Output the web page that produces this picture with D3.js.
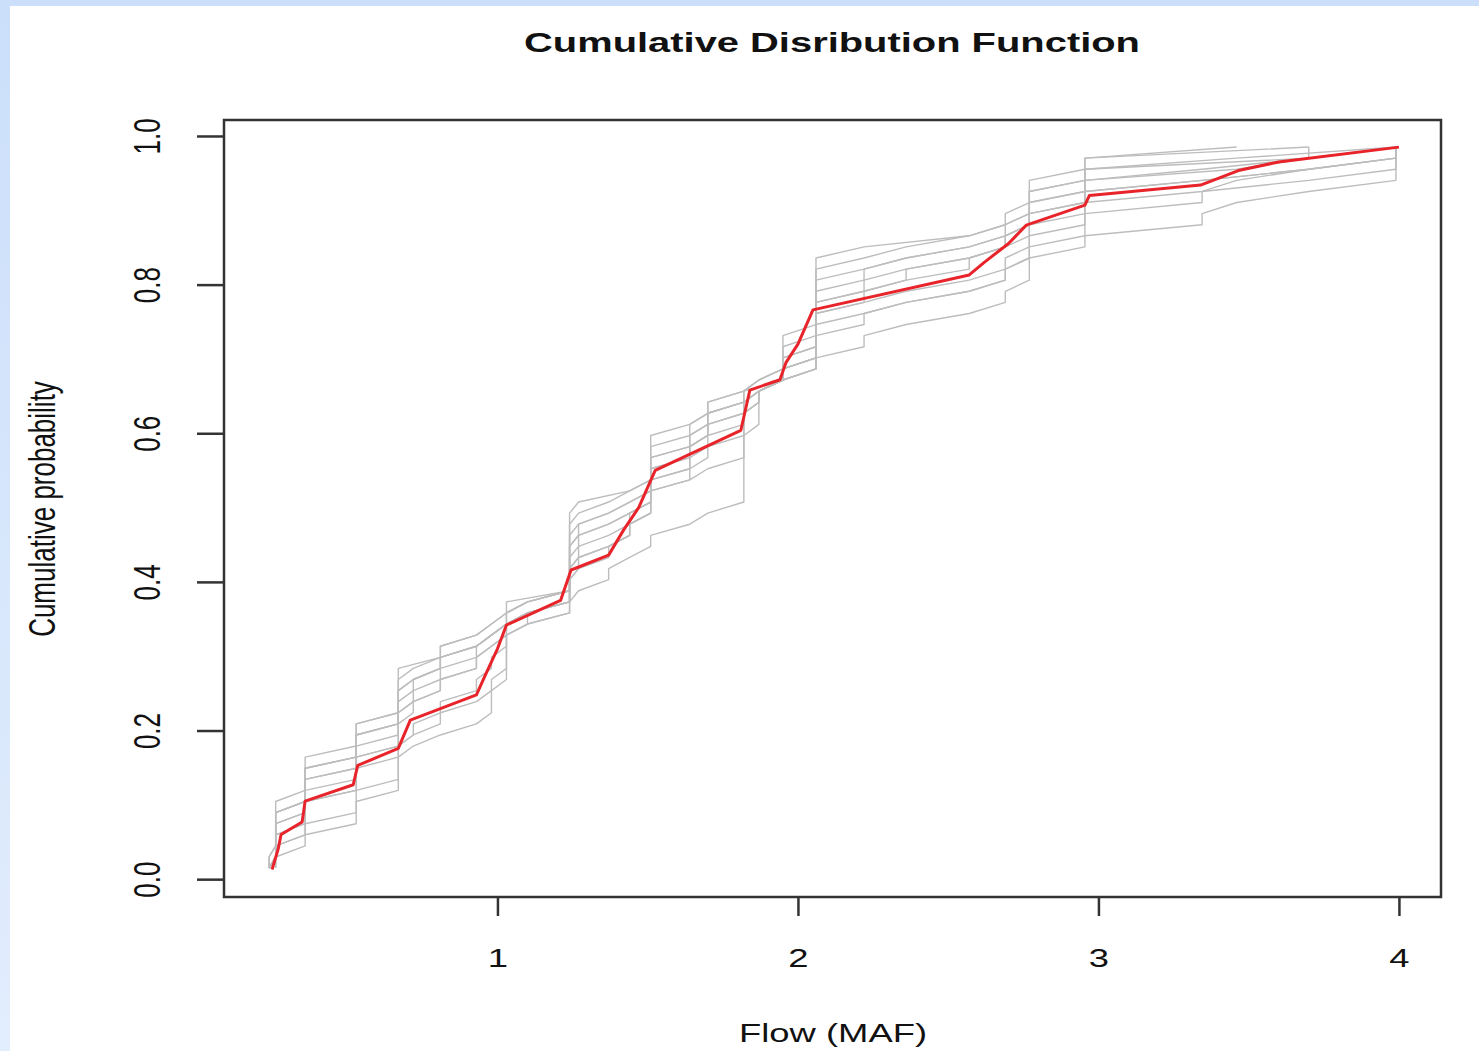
<!DOCTYPE html>
<html>
<head>
<meta charset="utf-8">
<script src="https://cdn.jsdelivr.net/npm/d3@7"></script>
<style>
  body { margin: 0; background: #ffffff; }
  svg text { font-family: "Liberation Sans", Arial, Helvetica, sans-serif; fill: #111; }
</style>
</head>
<body>
<div id="chart"></div>
<script>
// distinct flow values (MAF) that appear in the simulated traces
var flowValues = [0.24, 0.262, 0.36, 0.53, 0.67, 0.72, 0.81, 0.93, 0.98, 1.03, 1.10, 1.24, 1.27, 1.37, 1.44, 1.51,
    1.64, 1.70, 1.82, 1.87, 1.95, 2.06, 2.22, 2.36, 2.57, 2.69, 2.77, 2.955, 3.345, 3.46, 3.70, 3.99];

// cumulative number of years with flow <= flowValues[k], one array per simulation
var sim1 = [1, 7, 11, 14, 19, 19, 21, 22, 23, 25, 25, 33, 34, 34, 35, 40, 41, 43, 44, 45, 49, 56, 57, 57, 58, 60, 63, 65, 65, 66, 66, 66];
var sim2 = [2, 6, 10, 13, 17, 18, 20, 21, 22, 24, 25, 31, 32, 33, 34, 38, 40, 42, 43, 44, 47, 54, 55, 56, 57, 58, 62, 64, 64, 64, 66, 66];
var sim3 = [1, 5, 9, 12, 15, 16, 18, 20, 21, 23, 24, 27, 28, 30, 33, 37, 39, 41, 43, 44, 46, 52, 53, 54, 56, 58, 61, 63, 64, 64, 65, 66];
var sim4 = [1, 3, 5, 8, 12, 13, 15, 16, 18, 22, 24, 28, 29, 30, 32, 36, 38, 40, 42, 44, 46, 51, 52, 53, 54, 56, 59, 62, 63, 63, 64, 66];
var sim5 = [0, 6, 10, 13, 16, 18, 20, 21, 22, 23, 24, 30, 31, 32, 33, 35, 36, 37, 40, 44, 45, 50, 51, 52, 53, 55, 58, 61, 62, 63, 64, 66];
var sim6 = [2, 3, 7, 10, 12, 14, 16, 18, 20, 22, 23, 27, 29, 30, 32, 35, 37, 39, 42, 44, 45, 49, 51, 52, 53, 55, 57, 60, 62, 62, 63, 66];
var sim7 = [1, 6, 10, 14, 18, 19, 21, 22, 23, 24, 25, 32, 33, 34, 35, 39, 41, 43, 44, 45, 48, 53, 55, 56, 57, 59, 61, 64, 64, 65, 65, 66];
var sim8 = [1, 2, 4, 7, 11, 12, 13, 14, 17, 22, 23, 25, 26, 28, 29, 31, 32, 33, 44, 44, 45, 47, 49, 50, 51, 53, 56, 58, 60, 61, 62, 66];
var sim9 = [0, 4, 8, 11, 14, 16, 18, 20, 21, 23, 24, 29, 31, 32, 33, 37, 39, 42, 43, 44, 46, 51, 53, 55, 56, 57, 60, 62, 63, 63, 64, 66];
var sim10 = [1, 5, 9, 13, 17, 18, 20, 21, 22, 24, 25, 30, 32, 33, 34, 38, 40, 42, 44, 45, 47, 55, 56, 57, 58, 59, 62, 65, 65, 65, 66, 66];
var sim11 = [1, 4, 7, 11, 15, 17, 19, 21, 22, 23, 24, 28, 30, 31, 32, 36, 39, 41, 42, 44, 46, 52, 54, 55, 56, 58, 60, 63, 63, 64, 65, 66];
var sims = [sim1, sim2, sim3, sim4, sim5, sim6, sim7, sim8, sim9, sim10, sim11];

// observed record (red)
var obsFlow = [0.25, 0.27, 0.28, 0.35, 0.36, 0.52, 0.535, 0.67, 0.71, 0.93, 0.96, 1.00, 1.03, 1.21, 1.245, 1.37, 1.42,
    1.47, 1.525, 1.81, 1.84, 1.94, 1.96, 2.00, 2.05, 2.57, 2.62, 2.70, 2.76, 2.955, 2.97, 3.34, 3.47, 3.60, 4.0];
var obsProb = [0.013, 0.04, 0.06, 0.077, 0.105, 0.127, 0.153, 0.176, 0.214, 0.248, 0.275, 0.31, 0.342, 0.375, 0.416, 0.436, 0.47,
    0.50, 0.55, 0.604, 0.658, 0.672, 0.695, 0.72, 0.766, 0.813, 0.83, 0.855, 0.88, 0.907, 0.92, 0.934, 0.954, 0.965, 0.985];

var xTicks = [1, 2, 3, 4];
var yTicks = [0, 0.2, 0.4, 0.6, 0.8, 1.0];

var W = 1479, H = 1051;
var box = { left: 224, right: 1441, top: 120, bottom: 897 };
var stretch = 1.4;

var svg = d3.select("#chart")
    .append("svg")
    .attr("width", W)
    .attr("height", H);

// light blue frame around the picture
var grad = svg.append("defs").append("linearGradient")
    .attr("id", "frame").attr("x1", 0).attr("y1", 0).attr("x2", 0).attr("y2", 1);
grad.append("stop").attr("offset", "0%").attr("stop-color", "#cbdffa");
grad.append("stop").attr("offset", "100%").attr("stop-color", "#e2edfd");
svg.append("rect").attr("width", W).attr("height", H).attr("fill", "url(#frame)");
svg.append("rect").attr("x", 10).attr("y", 6).attr("width", W - 10).attr("height", H - 6).attr("fill", "#ffffff");

var x = d3.scaleLinear().domain([0.09, 4.14]).range([box.left, box.right]);
var y = d3.scaleLinear().domain([-0.024, 1.0215]).range([box.bottom, box.top]);

var lineFunc = d3.line()
    .x(function (d) { return x(d[0]); })
    .y(function (d) { return y(d[1]); })
    .curve(d3.curveLinear);

// sorted sample -> plotting position i/(n+1)
function ecdfPoints(cum) {
    let n = cum[cum.length - 1];
    let pts = [];
    let prev = 0;
    cum.forEach((c, k) => {
        for (let i = prev + 1; i <= c; i++) pts.push([flowValues[k], i / (n + 1)]);
        prev = c;
    });
    return pts;
}

svg.append("g")
    .selectAll("path")
    .data(sims)
    .enter().append("path")
    .attr("d", function (d) { return lineFunc(ecdfPoints(d)); })
    .attr("fill", "none")
    .attr("stroke", "#bdbdbd")
    .attr("stroke-width", 1.4)
    .attr("stroke-linejoin", "round");

svg.append("path")
    .datum(obsFlow.map((f, i) => [f, obsProb[i]]))
    .attr("d", lineFunc)
    .attr("fill", "none")
    .attr("stroke", "#e8242a")
    .attr("stroke-width", 3)
    .attr("stroke-linejoin", "round");

// box
svg.append("rect")
    .attr("x", box.left).attr("y", box.top)
    .attr("width", box.right - box.left).attr("height", box.bottom - box.top)
    .attr("fill", "none").attr("stroke", "#333").attr("stroke-width", 2.5);

// axes
var xAxis = svg.append("g")
    .attr("transform", "translate(0," + box.bottom + ")")
    .call(d3.axisBottom(x).tickValues(xTicks).tickSize(19).tickFormat(d3.format("d")));
xAxis.select(".domain").remove();
xAxis.selectAll("line").attr("stroke", "#333").attr("stroke-width", 2.5);
xAxis.selectAll("text")
    .attr("y", 0).attr("dy", 0)
    .attr("transform", "translate(0,70) scale(" + stretch + ",1)")
    .style("font-size", "26px");

var yAxis = svg.append("g")
    .attr("transform", "translate(" + box.left + ",0)")
    .call(d3.axisLeft(y).tickValues(yTicks).tickSize(27).tickFormat(d3.format(".1f")));
yAxis.select(".domain").remove();
yAxis.selectAll("line").attr("stroke", "#333").attr("stroke-width", 2.5);
yAxis.selectAll("text")
    .attr("x", 0).attr("dy", 0)
    .attr("text-anchor", "middle")
    .attr("transform", "translate(-64,0) scale(" + stretch + ",1) rotate(-90)")
    .style("font-size", "26px");

// titles
svg.append("text")
    .attr("transform", "translate(832,52) scale(" + stretch + ",1)")
    .attr("text-anchor", "middle")
    .style("font-size", "28.5px")
    .style("font-weight", "bold")
    .text("Cumulative Disribution Function");

svg.append("text")
    .attr("transform", "translate(833,1042) scale(" + stretch + ",1)")
    .attr("text-anchor", "middle")
    .style("font-size", "26px")
    .text("Flow (MAF)");

svg.append("text")
    .attr("transform", "translate(55,509) scale(" + stretch + ",1) rotate(-90)")
    .attr("text-anchor", "middle")
    .style("font-size", "26px")
    .text("Cumulative probability");
</script>
</body>
</html>
